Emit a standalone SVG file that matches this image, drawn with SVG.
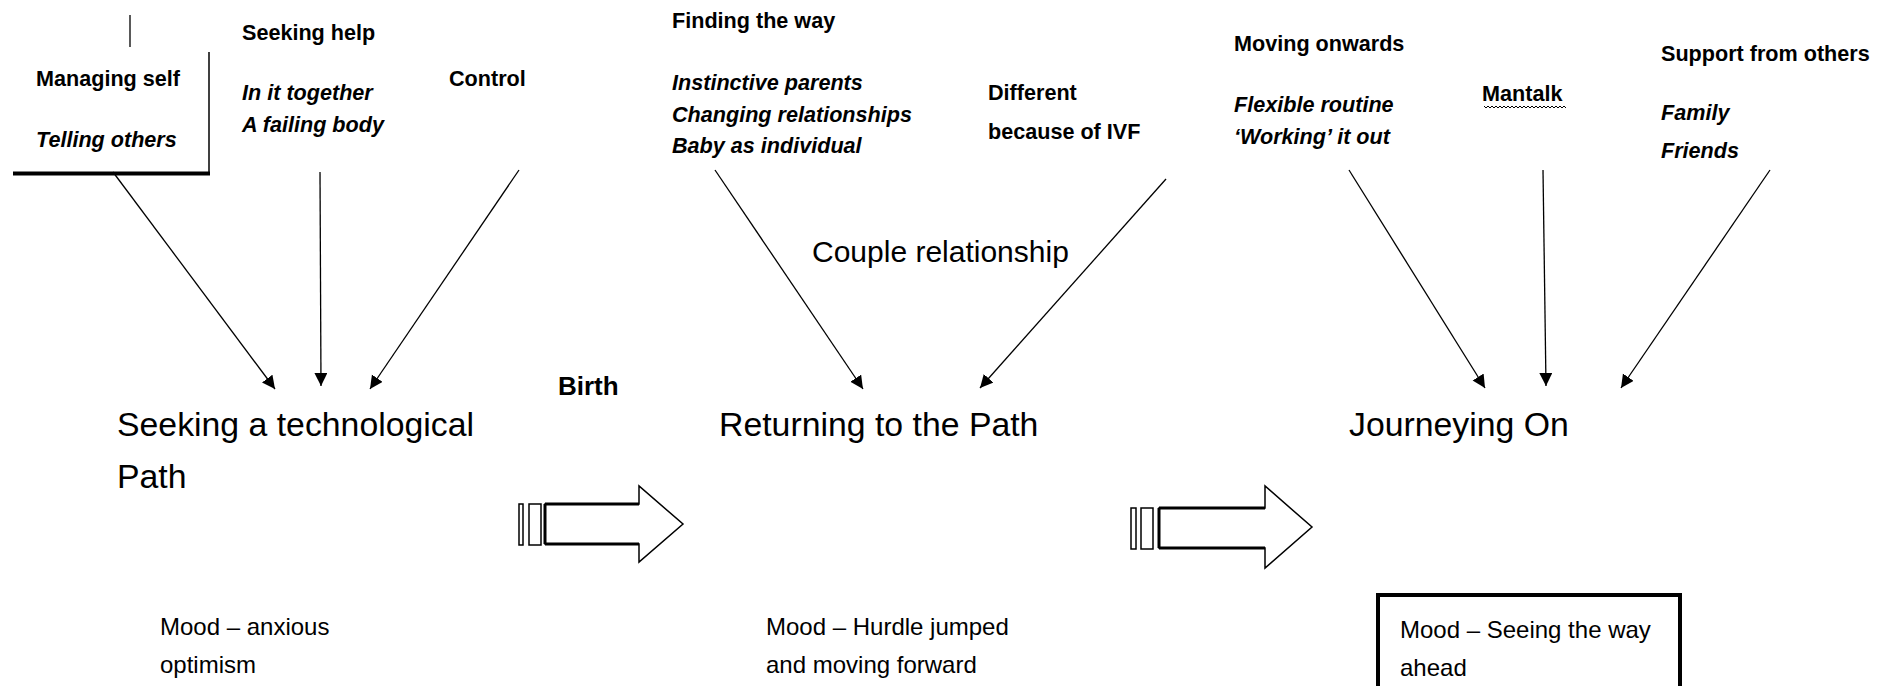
<svg xmlns="http://www.w3.org/2000/svg" width="1901" height="686" viewBox="0 0 1901 686">
<defs>
<marker id="ah" markerUnits="userSpaceOnUse" markerWidth="16" markerHeight="14" refX="13" refY="6.5" orient="auto">
<path d="M0,0 L13,6.5 L0,13 z" fill="#000"/>
</marker>
<style>
text{font-family:"Liberation Sans",Arial,sans-serif;fill:#000}
.lb{font-size:21.6px;font-weight:bold}
.it{font-size:21.6px;font-weight:bold;font-style:italic}
.main{font-size:33.8px}
.mood{font-size:24px}
.con{stroke:#000;stroke-width:1.3;fill:none;marker-end:url(#ah)}
.blk{fill:#fff;stroke:#000;stroke-width:1.5}
</style>
</defs>
<g id="connectors">
<line class="con" x1="113" y1="172" x2="275" y2="389"/>
<line class="con" x1="320" y1="172" x2="321" y2="386"/>
<line class="con" x1="519" y1="170" x2="370" y2="389"/>
<line class="con" x1="715" y1="170" x2="863" y2="389"/>
<line class="con" x1="1166" y1="179" x2="980" y2="388"/>
<line class="con" x1="1349" y1="170" x2="1485" y2="388"/>
<line class="con" x1="1543" y1="170" x2="1546" y2="386"/>
<line class="con" x1="1770" y1="170" x2="1621" y2="388"/>
</g>
<g id="stage1-influences">
<line x1="130" y1="15" x2="130" y2="47" stroke="#000" stroke-width="1.3"/>
<line x1="209" y1="52" x2="209" y2="175" stroke="#000" stroke-width="1.5"/>
<line x1="13" y1="173.5" x2="210" y2="173.5" stroke="#000" stroke-width="4"/>
<text class="lb" x="36" y="86">Managing self</text>
<text class="it" x="36" y="147">Telling others</text>
<text class="lb" x="242" y="40">Seeking help</text>
<text class="it" x="242" y="100">In it together</text>
<text class="it" x="242" y="132">A failing body</text>
<text class="lb" x="449" y="86">Control</text>
</g>
<g id="stage1">
<text class="main" x="117" y="436">Seeking a technological</text>
<text class="main" x="117" y="488">Path</text>
<text class="mood" x="160" y="635">Mood – anxious</text>
<text class="mood" x="160" y="673">optimism</text>
</g>
<g id="birth">
<text x="558" y="395" style="font-size:26px;font-weight:bold">Birth</text>
</g>
<g id="block-arrow-1">
<rect class="blk" x="519" y="504" width="4" height="41"/>
<rect class="blk" x="529" y="504" width="12" height="41"/>
<path class="blk" d="M545,504 L639,504 L639,486 L683,524 L639,562 L639,544 L545,544 z"/>
<path d="M545,504 L639,504 M545,544 L639,544 M545,504 L545,544" stroke="#000" stroke-width="3" fill="none"/>
</g>
<g id="stage2-influences">
<text class="lb" x="672" y="28">Finding the way</text>
<text class="it" x="672" y="90">Instinctive parents</text>
<text class="it" x="672" y="122">Changing relationships</text>
<text class="it" x="672" y="153">Baby as individual</text>
<text class="lb" x="988" y="100">Different</text>
<text class="lb" x="988" y="139">because of IVF</text>
<text x="812" y="262" style="font-size:30px">Couple relationship</text>
</g>
<g id="stage2">
<text class="main" x="719" y="436">Returning to the Path</text>
<text class="mood" x="766" y="635">Mood – Hurdle jumped</text>
<text class="mood" x="766" y="673">and moving forward</text>
</g>
<g id="block-arrow-2">
<rect class="blk" x="1131" y="508" width="5" height="41"/>
<rect class="blk" x="1141" y="508" width="12" height="41"/>
<path class="blk" d="M1159,508 L1265,508 L1265,486 L1312,527 L1265,568 L1265,548 L1159,548 z"/>
<path d="M1159,508 L1265,508 M1159,548 L1265,548 M1159,508 L1159,548" stroke="#000" stroke-width="3" fill="none"/>
</g>
<g id="stage3-influences">
<text class="lb" x="1234" y="51">Moving onwards</text>
<text class="it" x="1234" y="112">Flexible routine</text>
<text class="it" x="1234" y="144">‘Working’ it out</text>
<text class="lb" x="1482" y="101">Mantalk</text>
<path d="M1484,106 l2,2 l2,-2 l2,2 l2,-2 l2,2 l2,-2 l2,2 l2,-2 l2,2 l2,-2 l2,2 l2,-2 l2,2 l2,-2 l2,2 l2,-2 l2,2 l2,-2 l2,2 l2,-2 l2,2 l2,-2 l2,2 l2,-2 l2,2 l2,-2 l2,2 l2,-2 l2,2 l2,-2 l2,2 l2,-2 l2,2 l2,-2 l2,2 l2,-2 l2,2 l2,-2 l2,2 l2,-2 l2,2" stroke="#000" stroke-width="1" fill="none"/>
<text class="lb" x="1661" y="61">Support from others</text>
<text class="it" x="1661" y="120">Family</text>
<text class="it" x="1661" y="158">Friends</text>
</g>
<g id="stage3">
<text class="main" x="1349" y="436">Journeying On</text>
<rect x="1378" y="595" width="302" height="100" fill="none" stroke="#000" stroke-width="4"/>
<text class="mood" x="1400" y="638">Mood – Seeing the way</text>
<text class="mood" x="1400" y="676">ahead</text>
</g>
</svg>
